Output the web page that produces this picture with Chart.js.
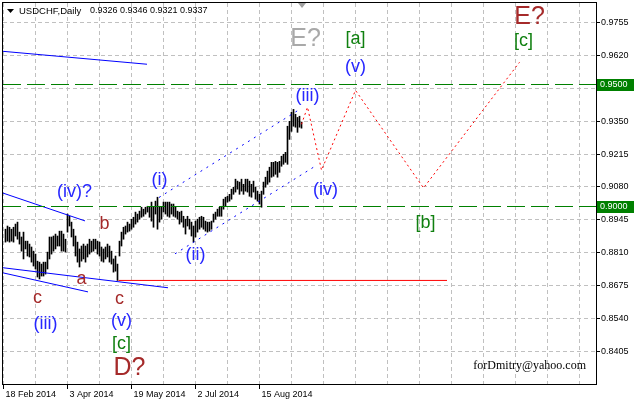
<!DOCTYPE html>
<html>
<head>
<meta charset="utf-8">
<title>USDCHF Daily</title>
<script src="https://cdn.jsdelivr.net/npm/chart.js@4.4.1/dist/chart.umd.min.js"></script>
<style>
    html, body { margin: 0; padding: 0; background: #fff; }
    canvas { display: block; }
</style>
</head>
<body>
<canvas id="chart" width="635" height="402"></canvas>
<script>
// Daily bars, bar index 0 = 18 Feb 2014 (first visible bar is index 1)
const FIRST_BAR = 1;
const highs = [
    0.8907, 0.8920, 0.8915, 0.8907, 0.8915, 0.8928, 0.8936, 0.8895, 0.8875, 0.8895,
    0.8858, 0.8858, 0.8846, 0.8834, 0.8817, 0.8805, 0.8776, 0.8772, 0.8764, 0.8772,
    0.8772, 0.8813, 0.8875, 0.8875, 0.8879, 0.8887, 0.8879, 0.8899, 0.8899, 0.8887,
    0.8866, 0.8969, 0.8960, 0.8936, 0.8907, 0.8879, 0.8854, 0.8826, 0.8838, 0.8846,
    0.8838, 0.8846, 0.8866, 0.8858, 0.8866, 0.8866, 0.8858, 0.8854, 0.8834, 0.8826,
    0.8834, 0.8846, 0.8838, 0.8817, 0.8785, 0.8797, 0.8764, 0.8858, 0.8895, 0.8915,
    0.8920, 0.8936, 0.8928, 0.8948, 0.8956, 0.8977, 0.8969, 0.8981, 0.8997, 0.8989,
    0.8997, 0.9001, 0.8997, 0.9018, 0.8997, 0.9022, 0.9038, 0.9001, 0.8997, 0.9018,
    0.9018, 0.9018, 0.9018, 0.9010, 0.9010, 0.8997, 0.8981, 0.8977, 0.8981, 0.8960,
    0.8948, 0.8960, 0.8948, 0.8936, 0.8920, 0.8940, 0.8948, 0.8956, 0.8960, 0.8956,
    0.8940, 0.8936, 0.8936, 0.8940, 0.8969, 0.8977, 0.8989, 0.8997, 0.9001, 0.9030,
    0.9038, 0.9042, 0.9050, 0.9071, 0.9079, 0.9112, 0.9104, 0.9100, 0.9112, 0.9091,
    0.9112, 0.9112, 0.9104, 0.9091, 0.9104, 0.9079, 0.9063, 0.9050, 0.9063, 0.9100,
    0.9120, 0.9145, 0.9161, 0.9181, 0.9181, 0.9185, 0.9181, 0.9185, 0.9206, 0.9214,
    0.9222, 0.9329, 0.9349, 0.9386, 0.9398, 0.9378, 0.9365, 0.9370, 0.9346
];
const lows = [
    0.8854, 0.8858, 0.8854, 0.8858, 0.8854, 0.8879, 0.8866, 0.8846, 0.8817, 0.8785,
    0.8826, 0.8797, 0.8793, 0.8772, 0.8756, 0.8744, 0.8711, 0.8703, 0.8715, 0.8715,
    0.8723, 0.8744, 0.8785, 0.8805, 0.8817, 0.8826, 0.8838, 0.8838, 0.8817, 0.8817,
    0.8813, 0.8895, 0.8920, 0.8875, 0.8838, 0.8797, 0.8772, 0.8752, 0.8776, 0.8785,
    0.8772, 0.8793, 0.8805, 0.8813, 0.8817, 0.8826, 0.8805, 0.8797, 0.8776, 0.8772,
    0.8785, 0.8793, 0.8772, 0.8764, 0.8731, 0.8735, 0.8697, 0.8797, 0.8838, 0.8866,
    0.8887, 0.8895, 0.8899, 0.8907, 0.8915, 0.8928, 0.8936, 0.8948, 0.8956, 0.8960,
    0.8969, 0.8977, 0.8956, 0.8940, 0.8915, 0.8969, 0.8907, 0.8936, 0.8948, 0.8977,
    0.8969, 0.8960, 0.8956, 0.8969, 0.8960, 0.8956, 0.8948, 0.8928, 0.8936, 0.8915,
    0.8887, 0.8920, 0.8907, 0.8879, 0.8854, 0.8875, 0.8895, 0.8907, 0.8915, 0.8907,
    0.8899, 0.8895, 0.8899, 0.8907, 0.8936, 0.8948, 0.8960, 0.8960, 0.8960, 0.8989,
    0.9001, 0.9018, 0.9022, 0.9030, 0.9050, 0.9059, 0.9071, 0.9050, 0.9063, 0.9050,
    0.9063, 0.9059, 0.9042, 0.9038, 0.9059, 0.9030, 0.9022, 0.9010, 0.8997, 0.9050,
    0.9079, 0.9091, 0.9100, 0.9120, 0.9124, 0.9132, 0.9120, 0.9140, 0.9165, 0.9173,
    0.9181, 0.9173, 0.9275, 0.9308, 0.9329, 0.9325, 0.9304, 0.9325, 0.9321
];
const lastQuote = ['0.9326', '0.9346', '0.9321', '0.9337'];

// Axes
const dateTicks = [0, 32, 64, 96, 128];
const dateLabels = ['18 Feb 2014', '3 Apr 2014', '19 May 2014', '2 Jul 2014', '15 Aug 2014'];
const gridTicks = [0, 16, 32, 48, 64, 80, 96, 112, 128, 144, 160, 176, 192, 208, 224, 240, 256, 272, 288];
const priceTicks = [0.8405, 0.8540, 0.8675, 0.8810, 0.8945, 0.9080, 0.9215, 0.9350, 0.9485, 0.9620, 0.9755];
const X_MIN = -0.25, X_MAX = 296.25;
const Y_MIN = 0.827254, Y_MAX = 0.983402;

// Horizontal levels
const greenLevels = [0.9500, 0.9000];
const redLevel = 0.8697;
const redLevelX = [57.5, 221.75];

// Trend lines (bar index, price)
const topLineX = [-0.25, 71.75],     topLineY = [0.9636, 0.9583];
const wedgeTopX = [-0.25, 40.75],    wedgeTopY = [0.9055, 0.8941];
const wedgeLowX = [-0.25, 82.25],    wedgeLowY = [0.8749, 0.8667];
const wedgeLow2X = [-0.25, 42.25],   wedgeLow2Y = [0.8728, 0.8650];
const channelTopX = [77.75, 148.25], channelTopY = [0.9037, 0.9399];
const channelLowX = [85.75, 156.75], channelLowY = [0.8806, 0.9170];

// Projected wave path
const pathX = [149, 152, 159, 176, 210, 258];
const pathY = [0.9337, 0.9407, 0.9149, 0.9476, 0.9076, 0.9591];

// Wave labels
const labelText  = ['E?', 'E?', '[a]', '[c]', '(v)', '(iii)', '(iv)', '[b]', '(i)', '(ii)', '(iv)?', 'b', 'a', 'c', 'c', '(iii)', '(v)', '[c]', 'D?'];
const labelX     = [151, 263, 176, 260, 176, 152, 161, 211, 78, 96, 35.5, 50.5, 39, 17, 58, 21, 59, 59, 63];
const labelY     = [0.9685, 0.9777, 0.9685, 0.9677, 0.9570, 0.9452, 0.9067, 0.8933, 0.9108, 0.8802, 0.9059, 0.8928, 0.8704, 0.8626, 0.8622, 0.8520, 0.8532, 0.8438, 0.8336];
const labelKind  = ['gray', 'brownBig', 'green', 'green', 'blue', 'blue', 'blue', 'green', 'blue', 'blue', 'blue', 'brown', 'brown', 'brown', 'brown', 'blue', 'blue', 'green', 'brownBig'];

const labelStyles = {
    gray:     { color: '#a9a9a9', font: '25px "Liberation Sans"' },
    brownBig: { color: '#a52a2a', font: '25px "Liberation Sans"' },
    brown:    { color: '#a52a2a', font: '18px "Liberation Sans"' },
    blue:     { color: '#2626ff', font: '18px "Liberation Sans"' },
    green:    { color: '#108010', font: '18px "Liberation Sans"' }
};

function seg(xs, ys) {
    return xs.map((x, i) => ({ x: x, y: ys[i] }));
}

function lineSet(points, color, dash) {
    return {
        type: 'line',
        data: points,
        borderColor: color,
        borderWidth: 1,
        borderDash: dash || [],
        pointRadius: 0,
        fill: false,
        tension: 0,
        order: 1
    };
}

// no extra room for edge labels: the plot keeps its fixed frame
function fixBox(s, w, h) {
    if (w) s.width = w;
    if (h) s.height = h;
    s.paddingLeft = 0;
    s.paddingRight = 0;
    s.paddingTop = 0;
    s.paddingBottom = 0;
}

// Overlay: frame, texts, axis tags
const overlay = {
    id: 'overlay',
    afterDraw(chart) {
        const { ctx, chartArea: a, scales: { x, y } } = chart;
        ctx.save();

        ctx.strokeStyle = '#000';
        ctx.lineWidth = 1;
        ctx.strokeRect(a.left - 0.5, a.top - 0.5, a.right - a.left + 1, a.bottom - a.top + 1);

        // wave labels
        ctx.textAlign = 'center';
        ctx.textBaseline = 'middle';
        labelText.forEach((t, i) => {
            const st = labelStyles[labelKind[i]];
            ctx.font = st.font;
            ctx.fillStyle = st.color;
            ctx.fillText(t, x.getPixelForValue(labelX[i]), y.getPixelForValue(labelY[i]));
        });

        // level tags on price axis
        ctx.font = '9px "Liberation Sans"';
        ctx.textAlign = 'left';
        greenLevels.forEach(v => {
            const py = Math.round(y.getPixelForValue(v));
            ctx.fillStyle = '#008000';
            ctx.fillRect(a.right + 1, py - 6, 37, 12);
            ctx.fillStyle = '#fff';
            ctx.fillText(v.toFixed(4), a.right + 4, py);
        });

        // title
        ctx.fillStyle = '#000';
        ctx.beginPath();
        ctx.moveTo(7, 9); ctx.lineTo(14, 9); ctx.lineTo(10.5, 13);
        ctx.closePath();
        ctx.fill();
        ctx.font = '9.5px "Liberation Sans"';
        ctx.fillText('USDCHF,Daily', 19, 11);
        ctx.font = '9px "Liberation Sans"';
        ctx.fillText(lastQuote.join(' '), 90, 11);

        // chart shift marker
        const sx = Math.round(x.getPixelForValue(FIRST_BAR + highs.length - 1));
        ctx.fillStyle = '#a0a0a0';
        ctx.beginPath();
        ctx.moveTo(sx - 4, 3); ctx.lineTo(sx + 4, 3); ctx.lineTo(sx, 8);
        ctx.closePath();
        ctx.fill();

        // signature
        ctx.fillStyle = '#000';
        ctx.font = '12px "Liberation Serif"';
        ctx.textAlign = 'right';
        ctx.fillText('forDmitry@yahoo.com', 586, 366);

        ctx.restore();
    }
};

function init() {
    const bars = highs.map((h, i) => ({ x: FIRST_BAR + i, y: [lows[i], h] }));
    const ctx = document.getElementById('chart').getContext('2d');

    new Chart(ctx, {
        type: 'bar',
        data: {
            datasets: [
                {
                    type: 'bar',
                    data: bars,
                    backgroundColor: '#000',
                    borderWidth: 0,
                    barThickness: 1,
                    order: 2
                },
                lineSet(seg([X_MIN, X_MAX], [greenLevels[0], greenLevels[0]]), '#008000', [18, 6]),
                lineSet(seg([X_MIN, X_MAX], [greenLevels[1], greenLevels[1]]), '#008000', [18, 6]),
                lineSet(seg(redLevelX, [redLevel, redLevel]), '#ff0000'),
                lineSet(seg(topLineX, topLineY), '#0000ff'),
                lineSet(seg(wedgeTopX, wedgeTopY), '#0000ff'),
                lineSet(seg(wedgeLowX, wedgeLowY), '#0000ff'),
                lineSet(seg(wedgeLow2X, wedgeLow2Y), '#0000ff'),
                lineSet(seg(channelTopX, channelTopY), '#0000ff', [2, 5]),
                lineSet(seg(channelLowX, channelLowY), '#0000ff', [2, 5]),
                lineSet(seg(pathX, pathY), '#ff0000', [2, 3])
            ]
        },
        options: {
            responsive: false,
            animation: false,
            events: [],
            layout: { padding: { left: 3, top: 3, right: 0, bottom: 0 } },
            plugins: {
                legend: { display: false },
                tooltip: { enabled: false }
            },
            scales: {
                x: {
                    type: 'linear',
                    offset: false,
                    min: X_MIN,
                    max: X_MAX,
                    afterBuildTicks: s => { s.ticks = gridTicks.map(v => ({ value: v })); },
                    afterFit: s => fixBox(s, 0, 18),
                    border: { display: false, dash: [4, 3] },
                    grid: {
                        offset: false,
                        color: '#c0c0c0',
                        tickLength: 5,
                        tickColor: c => (c.tick && dateTicks.includes(c.tick.value)) ? '#000' : 'rgba(0,0,0,0)'
                    },
                    ticks: {
                        autoSkip: false,
                        maxRotation: 0,
                        minRotation: 0,
                        align: 'start',
                        labelOffset: 2,
                        padding: 0,
                        color: '#000',
                        font: { family: 'Liberation Sans', size: 9 },
                        callback: v => {
                            const k = dateTicks.indexOf(v);
                            return k >= 0 ? dateLabels[k] : '';
                        }
                    }
                },
                y: {
                    position: 'right',
                    min: Y_MIN,
                    max: Y_MAX,
                    afterBuildTicks: s => { s.ticks = priceTicks.map(v => ({ value: v })); },
                    afterFit: s => fixBox(s, 39, 0),
                    border: { display: false, dash: [4, 3] },
                    grid: {
                        color: '#c0c0c0',
                        tickLength: 4,
                        tickColor: '#000'
                    },
                    ticks: {
                        autoSkip: false,
                        padding: 1,
                        color: '#000',
                        font: { family: 'Liberation Sans', size: 9 },
                        callback: v => v.toFixed(4)
                    }
                }
            }
        },
        plugins: [overlay]
    });
}

document.addEventListener('DOMContentLoaded', init);
</script>
</body>
</html>
